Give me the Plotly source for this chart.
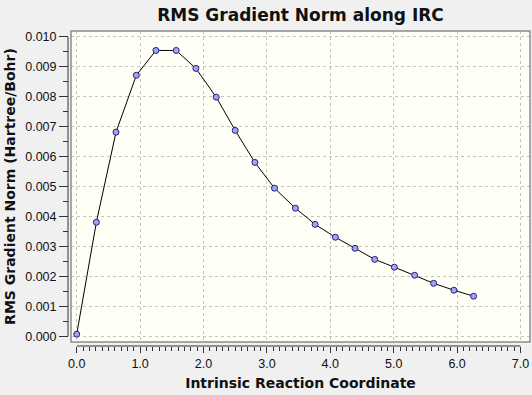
import numpy as np
import plotly.graph_objects as go

# Data
irc_coord = [0.00, 0.31, 0.62, 0.94, 1.25, 1.57, 1.88, 2.20, 2.50, 2.81, 3.12,
             3.45, 3.76, 4.08, 4.39, 4.70, 5.01, 5.33, 5.63, 5.95, 6.26]
rms_grad = [0.00007, 0.00381, 0.00682, 0.00872, 0.00955, 0.00955, 0.00895,
            0.00799, 0.00688, 0.00581, 0.00495, 0.00428, 0.00374, 0.00331,
            0.00294, 0.00257, 0.00231, 0.00204, 0.00177, 0.00154, 0.00134]
x_ticks = [0, 1, 2, 3, 4, 5, 6, 7]
x_tick_labels = ["0.0", "1.0", "2.0", "3.0", "4.0", "5.0", "6.0", "7.0"]
y_ticks = [0.000, 0.001, 0.002, 0.003, 0.004, 0.005, 0.006, 0.007, 0.008, 0.009, 0.010]
y_tick_labels = ["%.3f" % v for v in y_ticks]

x_minor = [round(v, 1) for v in np.arange(0, 7.01, 0.1)]
y_minor = [round(v, 4) for v in np.arange(0, 0.01001, 0.0005)]

W, H = 532, 395
ML, MR, MT, MB = 68, 2, 31, 49
pw = W - ML - MR
ph = H - MT - MB

fig = go.Figure()
fig.add_trace(go.Scatter(
    x=irc_coord, y=rms_grad, mode="lines+markers",
    line=dict(color="black", width=1),
    marker=dict(symbol="circle", size=6, color="#a4a4ec",
                line=dict(color="#20208a", width=1)),
    showlegend=False, hoverinfo="x+y",
))

font = "Liberation Sans, Arial, sans-serif"
tfont = "DejaVu Sans, Verdana, sans-serif"
fig.update_layout(
    width=W, height=H,
    margin=dict(l=ML, r=MR, t=MT, b=MB, pad=0, autoexpand=False),
    paper_bgcolor="#f0f0f0",
    plot_bgcolor="#fffff6",
    font=dict(family=font, size=12, color="#111111"),
    title=dict(text="<b>RMS Gradient Norm along IRC</b>", x=(71 + 530) / 2 / W,
               xanchor="center", y=1 - 15 / H, yanchor="middle",
               font=dict(family=tfont, size=17, color="#111111")),
    xaxis=dict(
        domain=[3 / pw, 1], anchor="free", position=0, automargin=False,
        range=[-0.09, 7.15], tickmode="array", tickvals=x_ticks,
        ticktext=x_tick_labels, ticks="outside", ticklen=6, tickwidth=1,
        tickcolor="#333333", showline=False, zeroline=False,
        showgrid=True, gridcolor="#c4c4c4", griddash="3px,3px", gridwidth=1,
        minor=dict(tickmode="array", tickvals=x_minor, ticks="outside",
                   ticklen=4, tickcolor="#333333", showgrid=False),
        title=dict(text="<b>Intrinsic Reaction Coordinate</b>",
                   font=dict(family=tfont, size=14), standoff=8),
        tickfont=dict(size=12.5),
    ),
    yaxis=dict(
        domain=[4 / ph, 1], anchor="free", position=0, automargin=False,
        range=[-0.00019, 0.0102], tickmode="array", tickvals=y_ticks,
        ticktext=y_tick_labels, ticks="outside", ticklen=9, tickwidth=1,
        tickcolor="#333333", showline=False, zeroline=False,
        showgrid=True, gridcolor="#c4c4c4", griddash="3px,3px", gridwidth=1,
        minor=dict(tickmode="array", tickvals=y_minor, ticks="outside",
                   ticklen=5, tickcolor="#333333", showgrid=False),
        title=dict(text="<b>RMS Gradient Norm (Hartree/Bohr)</b>",
                   font=dict(family=tfont, size=14), standoff=5),
        tickfont=dict(size=12.5),
    ),
)

# plot frame
fig.add_shape(type="rect", xref="x domain", yref="y domain", x0=0, x1=1, y0=0, y1=1,
              line=dict(color="#8c8c8c", width=1.5), layer="above")
# detached axis lines
fig.add_shape(type="line", xref="x", yref="paper", x0=x_ticks[0], x1=x_ticks[-1], y0=0, y1=0,
              line=dict(color="#333333", width=1))
fig.add_shape(type="line", xref="paper", yref="y", x0=0, x1=0, y0=y_ticks[0], y1=y_ticks[-1],
              line=dict(color="#333333", width=1))

fig.write_html("out.html",
               config={"displayModeBar": False},
               post_script="document.body.style.margin='0';"
                           "document.body.style.background='#f0f0f0';")
